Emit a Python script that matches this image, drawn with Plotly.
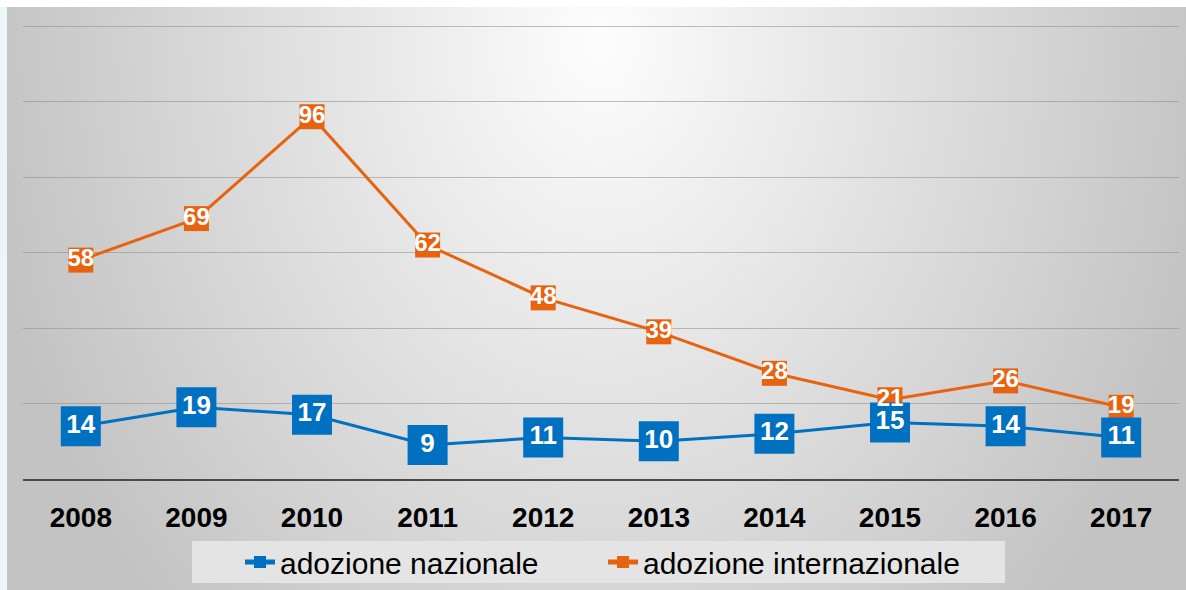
import base64
import plotly.graph_objects as go

years = ["2008", "2009", "2010", "2011", "2012", "2013", "2014", "2015", "2016", "2017"]
nazionale = [14, 19, 17, 9, 11, 10, 12, 15, 14, 11]
internazionale = [58, 69, 96, 62, 48, 39, 28, 21, 26, 19]

BLUE = "#0070C0"
ORANGE = "#E8630F"
W, H = 1186, 590
L, R, T, B = 23, 7, 25, 111
PW, PH = W - L - R, H - T - B

svg = f'''<svg xmlns="http://www.w3.org/2000/svg" width="{W}" height="{H}" viewBox="0 0 {W} {H}" preserveAspectRatio="none">
<defs><radialGradient id="g" gradientUnits="userSpaceOnUse" cx="600" cy="40" r="620"
 gradientTransform="translate(600 40) scale(1 1.3) translate(-600 -40)">
<stop offset="0" stop-color="#fdfdfd"/><stop offset="1" stop-color="#c3c3c3"/></radialGradient></defs>
<rect x="0" y="0" width="{W}" height="{H}" fill="#ffffff"/>
<rect x="0" y="7" width="7" height="{H-7}" fill="#eef5f8"/>
<rect x="7" y="7" width="{W-7}" height="{H-7}" fill="url(#g)"/>
</svg>'''
src = "data:image/svg+xml;base64," + base64.b64encode(svg.encode()).decode()

fig = go.Figure()
fig.add_trace(go.Scatter(
    x=years, y=internazionale, name="adozione internazionale", mode="lines+markers",
    line=dict(color=ORANGE, width=3), marker=dict(symbol="square", size=25, color=ORANGE),
    legendrank=2))
fig.add_trace(go.Scatter(
    x=years, y=nazionale, name="adozione nazionale", mode="lines+markers",
    line=dict(color=BLUE, width=3), marker=dict(symbol="square", size=40, color=BLUE),
    legendrank=1))
fig.add_trace(go.Scatter(
    x=years, y=internazionale, mode="text", text=[str(v) for v in internazionale],
    textposition="middle center", showlegend=False, hoverinfo="skip",
    textfont=dict(family="Liberation Sans", size=24, color="white", weight="bold")))
fig.add_trace(go.Scatter(
    x=years, y=nazionale, mode="text", text=[str(v) for v in nazionale],
    textposition="middle center", showlegend=False, hoverinfo="skip",
    textfont=dict(family="Liberation Sans", size=26, color="white", weight="bold")))

fig.update_layout(
    width=W, height=H,
    margin=dict(l=L, r=R, t=T, b=B, autoexpand=False),
    paper_bgcolor="white", plot_bgcolor="rgba(0,0,0,0)",
    font=dict(family="Liberation Sans", color="black"),
    images=[dict(source=src, xref="paper", yref="paper",
                 x=-L / PW, y=1 + T / PH, sizex=W / PW, sizey=H / PH,
                 xanchor="left", yanchor="top", sizing="stretch", layer="below")],
    shapes=[dict(type="rect", xref="paper", yref="paper",
                 x0=(192 - L) / PW, x1=(1005 - L) / PW,
                 y0=(T + PH - 583) / PH, y1=(T + PH - 541) / PH,
                 fillcolor="#e4e4e4", line=dict(width=0), layer="above")],
    legend=dict(orientation="h", xref="container", yref="container",
                x=240 / W, xanchor="left",
                y=(H - 562) / H, yanchor="middle",
                bgcolor="rgba(0,0,0,0)", entrywidth=318, entrywidthmode="pixels",
                itemsizing="constant",
                font=dict(family="Liberation Sans", size=30, color="black")),
    xaxis=dict(range=[-0.5, 9.5], showgrid=False, showline=True, linecolor="#4a4a4a", linewidth=2,
               ticks="", ticklabelstandoff=12, fixedrange=True,
               tickfont=dict(family="Liberation Sans", size=28, color="black", weight="bold")),
    yaxis=dict(range=[0, 120.3], dtick=20, showgrid=True, gridcolor="rgba(140,140,140,0.55)",
               gridwidth=1.3, zeroline=False, showticklabels=False, fixedrange=True),
    showlegend=True,
)

fig.write_html("out.html", config={"displayModeBar": False},
               post_script="document.body.style.margin='0';document.body.style.overflow='hidden';")
